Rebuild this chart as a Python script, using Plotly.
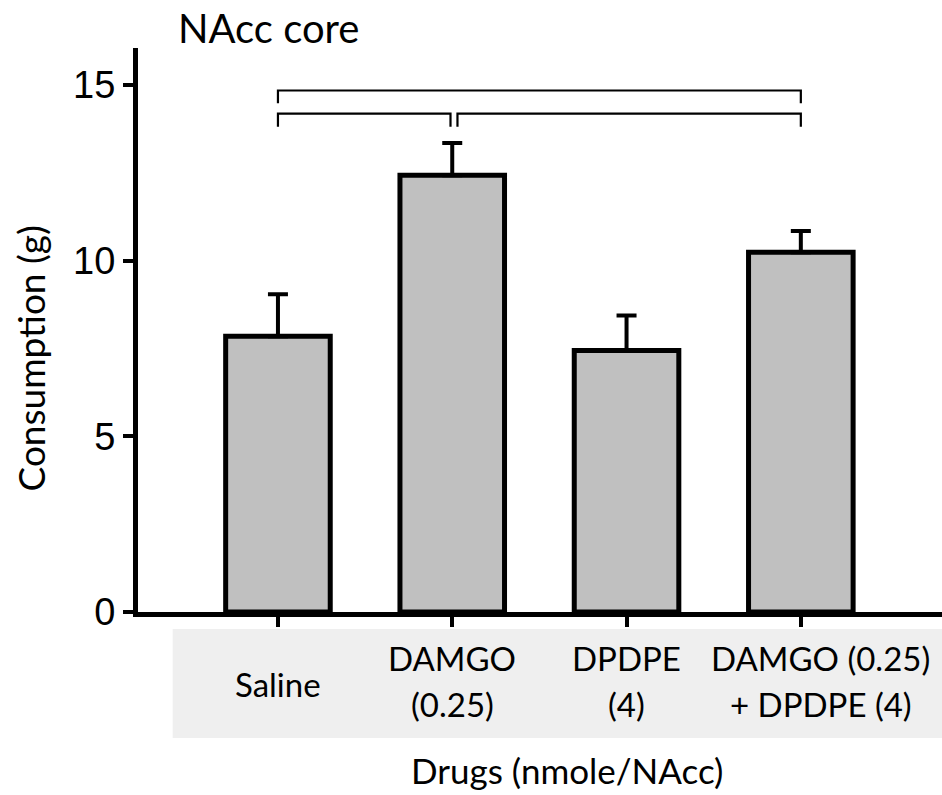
import plotly.graph_objects as go

categories = ["Saline", "DAMGO<br>(0.25)", "DPDPE<br>(4)", "DAMGO (0.25)<br>+ DPDPE (4)"]
means = [7.85, 12.43, 7.44, 10.24]
sem = [1.19, 0.92, 1.00, 0.60]
y_ticks = [0, 5, 10, 15]
x_pos = list(range(len(categories)))

# significance brackets: (x_start, x_end, y_level, drop)
brackets = [
    (0.0, 3.0, 14.84, 0.36),
    (0.0, 0.99, 14.18, 0.37),
    (1.03, 3.0, 14.18, 0.37),
]

TXT = "Lato"
label_shift = [0, 0, 0, 0.115]   # horizontal nudge of category labels (x units)

fig = go.Figure()
fig.add_trace(go.Bar(
    x=x_pos, y=means, width=0.6,
    marker=dict(color="#c0c0c0", line=dict(color="black", width=5)),
    error_y=dict(type="data", symmetric=False, array=sem, arrayminus=[0]*len(sem),
                 color="black", thickness=4, width=10),
    showlegend=False,
))

shapes = []
shapes.append(dict(type="rect", xref="x", yref="paper", x0=-0.604, x1=3.85,
                   y0=-0.2234, y1=-0.0301, fillcolor="#efefef", line=dict(width=0), layer="below"))
for (xa, xb, yl, d) in brackets:
    shapes.append(dict(type="path", xref="x", yref="y",
                       path=f"M {xa},{yl-d} L {xa},{yl} L {xb},{yl} L {xb},{yl-d}",
                       line=dict(color="black", width=2.2)))

annotations = []
lab_font = dict(family=TXT, size=33, color="black")
for i, lab in enumerate(categories):
    parts = lab.split("<br>")
    xi = i + label_shift[i]
    if len(parts) == 1:
        annotations.append(dict(x=xi, y=-0.1277, xref="x", yref="paper", text=parts[0],
                                showarrow=False, font=lab_font, yanchor="middle"))
    else:
        annotations.append(dict(x=xi, y=-0.0816, xref="x", yref="paper", text=parts[0],
                                showarrow=False, font=lab_font, yanchor="middle"))
        annotations.append(dict(x=xi, y=-0.163, xref="x", yref="paper", text=parts[1],
                                showarrow=False, font=lab_font, yanchor="middle"))
annotations.append(dict(x=(567-138)/804, y=-0.280, xref="paper", yref="paper",
                        text="Drugs (nmole/NAcc)", showarrow=False,
                        font=dict(family=TXT, size=35, color="black"), yanchor="middle"))
annotations.append(dict(x=(176-138)/804, y=1.035, xref="paper", yref="paper",
                        text="NAcc core", showarrow=False, xanchor="left", yanchor="middle",
                        font=dict(family=TXT, size=40, color="black")))
annotations.append(dict(x=-0.134, y=0.45, xref="paper", yref="paper",
                        text="Consumption (g)", showarrow=False, textangle=-90,
                        xanchor="center", yanchor="middle",
                        font=dict(family=TXT, size=37, color="black")))

fig.update_layout(
    width=942, height=795,
    margin=dict(l=138, r=0, t=48, b=183),
    plot_bgcolor="white", paper_bgcolor="white",
    shapes=shapes, annotations=annotations,
    xaxis=dict(range=[-0.803, 3.81], tickvals=x_pos, showticklabels=False,
               ticks="outside", ticklen=10, tickwidth=4, tickcolor="black",
               showline=True, linewidth=5, linecolor="black", showgrid=False, zeroline=False),
    yaxis=dict(range=[0, 16.05], tickvals=y_ticks, ticks="outside", ticklen=10, tickwidth=4,
               tickcolor="black", showline=True, linewidth=5, linecolor="black",
               showgrid=False, zeroline=False,
               tickfont=dict(family="Liberation Sans", size=38, color="black"),
               ticklabelstandoff=0),
)

# remove the default 8px page margin so the figure fills the window exactly
fig.write_html("out.html", config={"displayModeBar": False},
               post_script="document.body.style.margin='0';")
